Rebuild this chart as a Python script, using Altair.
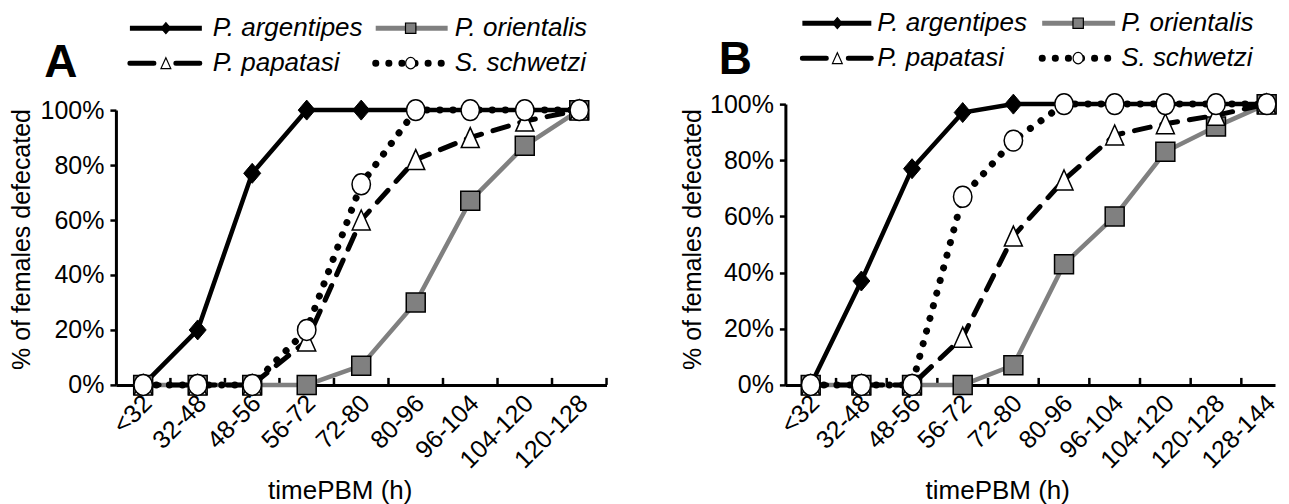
import altair as alt
import pandas as pd

FONT = "Liberation Sans"

categories_a = ["<32", "32-48", "48-56", "56-72", "72-80", "80-96", "96-104", "104-120", "120-128"]
categories_b = ["<32", "32-48", "48-56", "56-72", "72-80", "80-96", "96-104", "104-120", "120-128", "128-144"]
species = ["P. argentipes", "P. orientalis", "P. papatasi", "S. schwetzi"]

a_argentipes = [0, 20, 77, 100, 100, 100, 100, 100, 100]
a_orientalis = [0, 0, 0, 0, 7, 30, 67, 87, 100]
a_papatasi = [0, 0, 0, 16, 60, 82, 90, 96, 100]
a_schwetzi = [0, 0, 0, 20, 73, 100, 100, 100, 100]

b_argentipes = [0, 37, 77, 97, 100, 100, 100, 100, 100, 100]
b_orientalis = [0, 0, 0, 0, 7, 43, 60, 83, 92, 100]
b_papatasi = [0, 0, 0, 17, 53, 73, 89, 93, 96, 100]
b_schwetzi = [0, 0, 0, 67, 87, 100, 100, 100, 100, 100]

DIAMOND = "M0,-1 L0.85,0 L0,1 L-0.85,0 Z"
TRIANGLE = "M0,-1 L0.9,1 L-0.9,1 Z"
ELLIPSE = "M0,-1 A0.88,1 0 1,1 0,1 A0.88,1 0 1,1 0,-1 Z"

styles = {
    "P. argentipes": dict(color="black", width=4.5, dash=None, ldash=None, cap="butt",
                          shape=DIAMOND, fill="black", stroke="black", sw=1, size=400),
    "P. orientalis": dict(color="#808080", width=4.5, dash=None, ldash=None, cap="butt",
                          shape="square", fill="#808080", stroke="black", sw=1.5, size=360),
    "P. papatasi": dict(color="black", width=5, dash=[16, 12], ldash=[24, 22], cap="round",
                        shape=TRIANGLE, fill="white", stroke="black", sw=1.5, size=400),
    "S. schwetzi": dict(color="black", width=7, dash=[0.1, 13], ldash=[0.1, 13], cap="round",
                        shape=ELLIPSE, fill="white", stroke="black", sw=1.5, size=440),
}


def line_args(st, dash, **kw):
    args = dict(color=st["color"], strokeWidth=st["width"], strokeCap=st["cap"])
    if dash is not None:
        args["strokeDash"] = dash
    args.update(kw)
    return args


def panel(cats, series, width, height, xmax, yrange, letter, leg, ytitle, xtitle):
    n = len(cats)
    rows = []
    for sp, vals in zip(species, series):
        for i, (c, v) in enumerate(zip(cats, vals)):
            rows.append({"idx": i, "cat": c, "pct": v, "species": sp})
    df = pd.DataFrame(rows)
    label_arr = "[" + ",".join("'%s'" % c for c in cats) + "]"

    xscale = alt.Scale(domain=[-0.5, xmax], nice=False, zero=False)
    yscale = alt.Scale(domain=[0, 100], range=yrange, nice=False)
    xaxis = alt.Axis(values=list(range(n)), labelExpr=label_arr + "[datum.value]",
                     ticks=False, grid=False, domainWidth=3, domainColor="black",
                     labelAngle=-45, labelAlign="right", labelBaseline="middle",
                     labelPadding=14, labelOffset=4, labelFontSize=25, labelColor="black",
                     labelFont=FONT, labelOverlap=False, labelFlush=False,
                     title="timePBM (h)", titleFontSize=26, titleFontWeight="normal",
                     titleColor="black", titleFont=FONT, titleX=xtitle[0], titleY=xtitle[1],
                     titleAlign="center", titleBaseline="middle", titleAnchor="start")
    yaxis = alt.Axis(values=[0, 20, 40, 60, 80, 100], labelExpr="datum.value + '%'",
                     grid=False, domainWidth=3, domainColor="black", tickColor="black",
                     tickWidth=2.5, tickSize=6, labelPadding=6, labelFontSize=25,
                     labelColor="black", labelFont=FONT,
                     title="% of females defecated", titleFontSize=25,
                     titleFontWeight="normal", titleColor="black", titleFont=FONT,
                     titleX=ytitle[0], titleY=ytitle[1], titleAngle=270,
                     titleAlign="center", titleBaseline="top", titleAnchor="start")

    base = alt.Chart(df)
    layers = []
    first = True
    for sp in species:
        st = styles[sp]
        sub = base.transform_filter(alt.datum.species == sp)
        if first:
            enc = dict(x=alt.X("idx:Q", scale=xscale, axis=xaxis),
                       y=alt.Y("pct:Q", scale=yscale, axis=yaxis))
            first = False
        else:
            enc = dict(x=alt.X("idx:Q"), y=alt.Y("pct:Q"))
        layers.append(sub.mark_line(**line_args(st, st["dash"])).encode(**enc))
        layers.append(sub.mark_point(shape=st["shape"], filled=True, fill=st["fill"],
                                     stroke=st["stroke"], strokeWidth=st["sw"],
                                     size=st["size"], opacity=1).encode(
            x=alt.X("idx:Q"), y=alt.Y("pct:Q")))

    bounds = [i + 0.5 for i in range(n) if i + 0.5 <= xmax]
    ticks = alt.Chart(pd.DataFrame({"b": bounds})).mark_rule(
        color="black", strokeWidth=2.5).encode(
        x=alt.X("b:Q"), y=alt.value(height), y2=alt.value(height - 7))
    layers.insert(0, ticks)

    # legend
    for i, sp in enumerate(species):
        st = styles[sp]
        r, c = i // 2, i % 2
        y = leg["rows"][r]
        x0, x1 = leg["lines"][c]
        ld = alt.Chart(pd.DataFrame({"label": [sp]}))
        layers.append(ld.mark_rule(**line_args(st, st["ldash"],
                                               strokeWidth=max(st["width"], 5))).encode(
            x=alt.value(x0), x2=alt.value(x1), y=alt.value(y)))
        layers.append(ld.mark_point(shape=st["shape"], filled=True, fill=st["fill"],
                                    stroke=st["stroke"], strokeWidth=1.2,
                                    size=st["size"] * 0.3, opacity=1).encode(
            x=alt.value(leg["marks"][c]), y=alt.value(y)))
        layers.append(ld.mark_text(align="left", baseline="middle", fontSize=26,
                                   fontStyle="italic", font=FONT, color="black").encode(
            x=alt.value(leg["texts"][c]), y=alt.value(y), text="label:N"))
    layers.append(alt.Chart(pd.DataFrame({"label": [letter]})).mark_text(
        align="center", baseline="middle", fontSize=46, fontWeight="bold",
        font=FONT, color="black").encode(
        x=alt.value(leg["letter"][0]), y=alt.value(leg["letter"][1]), text="label:N"))

    return alt.layer(*layers).properties(width=width, height=height)


H = 281
panel_a = panel(categories_a, [a_argentipes, a_orientalis, a_papatasi, a_schwetzi],
                width=491, height=H, xmax=8.5, yrange=[H, 6], letter="A",
                leg=dict(rows=[-76, -41], lines=[(14, 86), (260, 332)], marks=[50, 295],
                         texts=[97, 339], letter=(-55, -41)),
                ytitle=(-106, 135), xtitle=(224, 106))
panel_b = panel(categories_b, [b_argentipes, b_orientalis, b_papatasi, b_schwetzi],
                width=490, height=H, xmax=-0.5 + 490 / 50.7, yrange=[H, 0], letter="B",
                leg=dict(rows=[-81, -46], lines=[(17, 86), (257, 330)], marks=[52, 293],
                         texts=[92, 336], letter=(-50, -44)),
                ytitle=(-105, 135), xtitle=(212, 106))

chart = alt.hconcat(panel_a, panel_b, spacing=179, bounds="flush").properties(
    padding={"left": 2, "top": 2, "right": 0, "bottom": 0}
).configure(font=FONT).configure_view(stroke=None)

chart.save("out.html", embed_options={"renderer": "svg", "actions": False})
